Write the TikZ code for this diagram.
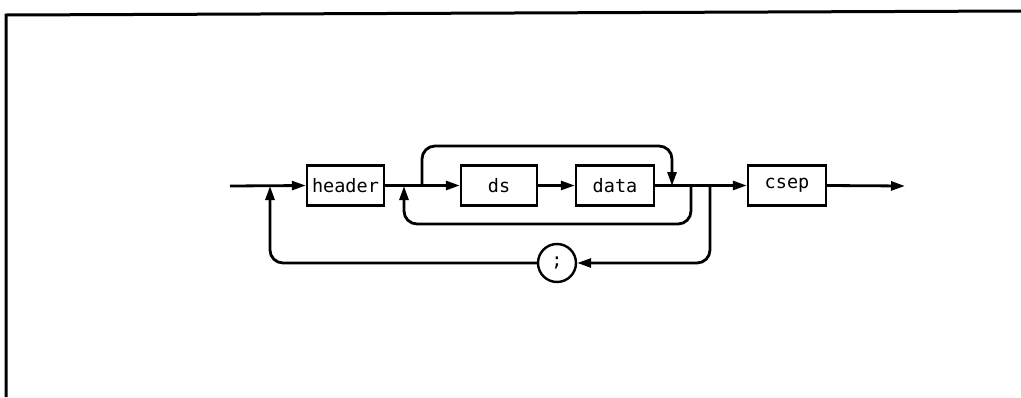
\documentclass[tikz,border=0pt]{standalone}
\usepackage{fontspec}
\setmonofont{DejaVu Sans Mono}
\usetikzlibrary{arrows.meta}
\begin{document}
\begin{tikzpicture}[x=1pt,y=-1pt,
  line width=2.8pt,
  arr/.style={-{Triangle[length=14pt,width=9pt]}},
  boxnode/.style={draw,rectangle,minimum height=40pt,inner sep=0pt,line width=2.4pt,font=\ttfamily\fontsize{18.5}{18.5}\selectfont},
  circnode/.style={draw,circle,minimum size=38pt,inner sep=0pt,line width=2.4pt,font=\ttfamily\fontsize{18.5}{18.5}\selectfont},
  rc/.style={rounded corners=13pt}]
\useasboundingbox (0,0) rectangle (1021,397);
% frame
\draw[line width=3pt] (6,397) -- (6,15) -- (1021,11);
% nodes
\node[boxnode,minimum width=77pt] (header) at (345.5,185.5) {header};
\node[boxnode,minimum width=76pt] (ds) at (499,185.5) {ds};
\node[boxnode,minimum width=78pt] (data) at (615,185.5) {data};
\node[boxnode,minimum width=78pt] (csep) at (787,185.5) {csep};
\node[circnode] (semi) at (557,263) {;};
% junction coordinates
\coordinate (start) at (230,186);
\coordinate (finish) at (905,186);
\coordinate (j1) at (270,186);
\coordinate (j2) at (404,186);
\coordinate (j3) at (422,186);
\coordinate (j4) at (672,186);
\coordinate (j5) at (691,186);
\coordinate (j6) at (710,186);
% main line
\draw[arr] (start) -- (header.west);
\draw[arr] (header.east) -- (ds.west);
\draw[arr] (ds.east) -- (data.west);
\draw[arr] (data.east) -- (csep.west);
\draw[arr] (csep.east) -- (finish);
% bypass over ds/data
\draw[arr,rc] (j3) -- ++(0,-40) -| (j4);
% inner loop back
\draw[arr,rc] (j5) -- ++(0,38) -| (j2);
% outer loop via ;
\draw[arr,rc] (j6) |- (semi.east);
\draw[arr,rc] (semi.west) -| (j1);
\end{tikzpicture}
\end{document}
